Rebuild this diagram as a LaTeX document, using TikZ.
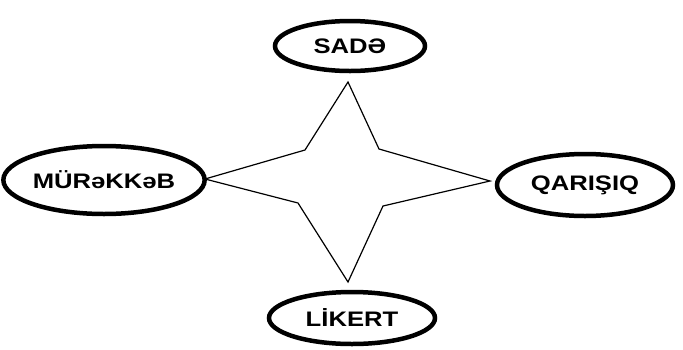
\documentclass[tikz,border=0pt]{standalone}
\usepackage{fontspec}
\setmainfont{Liberation Sans}
\newfontfamily\labelfont[FakeStretch=1.22]{Liberation Sans}
\usetikzlibrary{shapes.geometric}
\begin{document}
\begin{tikzpicture}[x=1pt,y=-1pt,
  oval/.style={draw=black,ellipse,line width=4.5pt,inner sep=0pt,
    font=\labelfont\bfseries\fontsize{21}{24}\selectfont},
  startline/.style={draw=black,line width=1.2pt,line join=miter}]
  \useasboundingbox (0,0) rectangle (683,349);
  % the four category ovals
  \node[oval,minimum width=150pt,minimum height=50pt] (sade) at (350,46) {SADƏ};
  \node[oval,minimum width=194pt,minimum height=68pt] (mur) at (104,180) {MÜRəKKəB};
  \node[oval,minimum width=176pt,minimum height=62pt] (qar) at (585,185) {QARIŞIQ};
  \node[oval,minimum width=166pt,minimum height=52pt] (lik) at (352,318) {LİKERT};
  % four-pointed star in the middle
  \coordinate (tp) at (348,82);
  \coordinate (ur) at (379,149);
  \coordinate (rp) at (490,181);
  \coordinate (lr) at (383,206);
  \coordinate (bp) at (348,282);
  \coordinate (ll) at (298,203);
  \coordinate (lp) at (205,179);
  \coordinate (ul) at (305,150);
  \draw[startline] (tp) -- (ur) -- (rp) -- (lr) -- (bp) -- (ll) -- (lp) -- (ul) -- cycle;
\end{tikzpicture}
\end{document}
